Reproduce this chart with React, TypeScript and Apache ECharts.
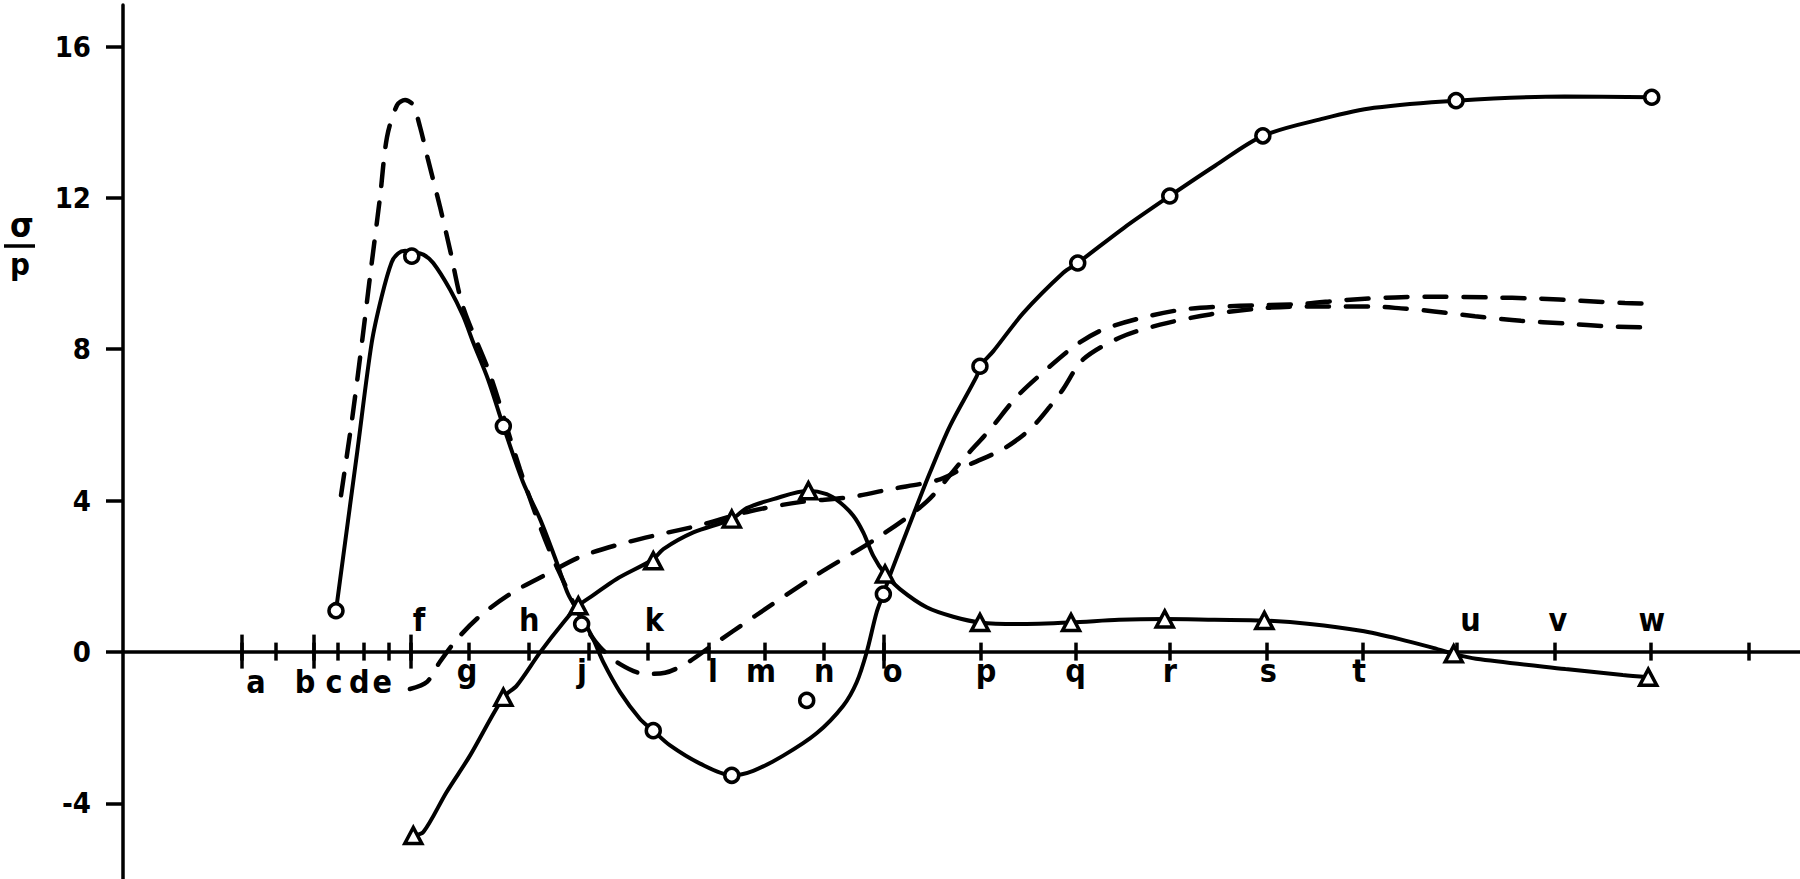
import React, { useEffect, useRef } from "react";
import * as echarts from "echarts";

// ---------- data ----------
const Y_TICKS = [-4, 0, 4, 8, 12, 16];

// x positions of tick marks (arbitrary position scale 0..100)
const X_TICKS = [7.11, 9.13, 11.39, 12.79, 14.36, 15.87, 17.17, 20.6, 24.22, 27.78, 31.27, 34.9, 38.25, 41.81, 45.34, 51.13, 56.8, 62.42, 68.23, 73.92, 79.53, 85.35, 91.1, 96.92];
const X_TICKS_LONG = [7.11, 11.39, 17.17, 45.34];

const LETTERS_LOW = ["a", "b", "c", "d", "e"];
const LETTERS_LOW_POS = [7.93, 10.85, 12.58, 14.09, 15.46];
const LETTERS_BELOW = ["g", "j", "l", "m", "n", "o", "p", "q", "r", "s", "t"];
const LETTERS_BELOW_POS = [20.51, 27.37, 35.18, 38.05, 41.81, 45.89, 51.47, 56.8, 62.42, 68.3, 73.71];
const LETTERS_ABOVE = ["f", "h", "k", "u", "v", "w"];
const LETTERS_ABOVE_POS = [17.65, 24.22, 31.68, 80.35, 85.56, 91.17];

// solid curve through the circles
const CIRCLE_CURVE = [
  [12.7, 1.09], [13.11, 2.45], [13.97, 5.3], [14.83, 8.17], [15.43, 9.4], [16.02, 10.3], [16.4, 10.53], [16.82, 10.6],
  [17.22, 10.57], [17.91, 10.5], [18.5, 10.28], [19.5, 9.58], [20.29, 8.87], [20.89, 8.17], [21.77, 7.2], [22.68, 5.97],
  [23.85, 4.49], [24.87, 3.51], [25.86, 2.37], [26.54, 1.53], [27.13, 1.08], [27.67, 0.66], [28.09, 0.29], [28.64, -0.27],
  [29.64, -1.06], [30.83, -1.77], [31.62, -2.08], [32.62, -2.47], [34.41, -2.95], [36.3, -3.26], [37.58, -3.14], [39.37, -2.74],
  [41.36, -2.15], [42.95, -1.42], [43.75, -0.8], [44.35, 0.0], [44.94, 1.05], [45.34, 1.53], [45.84, 2.15], [46.93, 3.4],
  [48.12, 4.74], [49.31, 5.97], [50.91, 7.29], [51.1, 7.55], [51.9, 7.95], [53.69, 8.96], [56.07, 10.02], [56.93, 10.28],
  [59.69, 11.21], [62.42, 12.05], [65.12, 12.85], [67.97, 13.64], [71.62, 14.1], [74.6, 14.38], [79.49, 14.57], [85.96, 14.68],
  [91.16, 14.66],
];
const CIRCLE_POINTS = [
  [12.7, 1.09], [17.22, 10.46], [22.68, 5.97], [27.35, 0.74], [31.62, -2.08], [36.3, -3.26], [45.34, 1.53],
  [51.1, 7.55], [56.93, 10.28], [62.42, 12.05], [67.97, 13.64], [79.49, 14.57], [91.16, 14.66],
];
const LONE_CIRCLE = [[40.77, -1.28]];

// solid curve through the triangles
const TRIANGLE_CURVE = [
  [17.31, -4.85], [17.91, -4.76], [19.3, -3.7], [20.69, -2.74], [22.68, -1.2], [23.48, -0.89], [24.87, -0.01], [26.26, 0.78],
  [27.15, 1.22], [28.04, 1.5], [29.44, 1.93], [31.62, 2.45], [32.22, 2.72], [34.01, 3.16], [36.3, 3.51], [37.19, 3.8],
  [38.78, 4.04], [40.87, 4.26], [41.96, 4.17], [42.76, 3.95], [43.55, 3.6], [44.14, 3.16], [44.74, 2.54], [45.44, 2.06],
  [46.33, 1.66], [47.92, 1.18], [49.51, 0.93], [51.1, 0.78], [53.3, 0.74], [56.53, 0.78], [59.39, 0.85], [62.12, 0.87],
  [65.09, 0.85], [68.06, 0.83], [70.78, 0.74], [73.82, 0.56], [76.12, 0.34], [78.02, 0.12], [79.35, -0.05], [80.68, -0.18],
  [86.01, -0.45], [89.43, -0.61], [90.95, -0.67],
];
const TRIANGLE_POINTS = [
  [17.31, -4.85], [22.68, -1.2], [27.15, 1.22], [31.62, 2.41], [36.3, 3.51], [40.87, 4.26], [45.44, 2.06],
  [51.1, 0.78], [56.53, 0.78], [62.12, 0.87], [68.06, 0.83], [79.35, -0.05], [90.95, -0.67],
];

// dashed curve with the tall peak
const DASHED_A = [
  [13.0, 4.14], [13.66, 6.15], [14.25, 8.18], [14.73, 9.92], [15.33, 12.03], [15.74, 13.6], [16.34, 14.45], [16.82, 14.59],
  [17.29, 14.46], [17.71, 13.88], [18.19, 13.01], [18.9, 11.77], [19.5, 10.63], [20.27, 9.13], [21.88, 7.34], [23.67, 4.83],
  [25.16, 2.98], [26.48, 1.66], [27.55, 0.69], [28.44, 0.13], [29.64, -0.32], [31.13, -0.58], [32.32, -0.55], [33.63, -0.29],
  [35.0, 0.13], [37.69, 0.95], [41.26, 2.01], [45.14, 3.06], [47.94, 3.98], [50.09, 5.09], [51.7, 5.88], [53.31, 6.75],
  [55.28, 7.55], [56.89, 8.13], [58.44, 8.52], [60.82, 8.84], [63.21, 9.05], [65.59, 9.13], [67.62, 9.16], [70.36, 9.2],
  [72.87, 9.3], [75.85, 9.37], [78.47, 9.39], [81.34, 9.37], [84.32, 9.34], [86.94, 9.28], [89.56, 9.22], [90.7, 9.21],
];
// flatter dashed curve
const DASHED_B = [
  [17.11, -0.98], [18.13, -0.79], [18.9, -0.26], [19.92, 0.34], [21.29, 0.95], [23.26, 1.58], [25.28, 2.06], [27.25, 2.51],
  [29.64, 2.85], [32.02, 3.11], [34.41, 3.35], [37.39, 3.72], [40.37, 3.96], [43.35, 4.09], [45.74, 4.3], [48.72, 4.56],
  [50.51, 4.96], [52.47, 5.36], [54.08, 5.88], [55.28, 6.49], [56.05, 6.94], [57.25, 7.73], [59.45, 8.31], [61.84, 8.65],
  [64.82, 8.92], [67.8, 9.08], [70.19, 9.13], [72.33, 9.13], [74.48, 9.13], [76.21, 9.08], [78.18, 9.0], [80.62, 8.87],
  [83.36, 8.75], [85.99, 8.68], [88.61, 8.6], [90.46, 8.58],
];

// ---------- layout ----------
const W = 1800;
const H = 879;
const GRID_LEFT = 123;
const GRID_TOP = 4.9;
const Y_MIN = -6;
const Y_MAX = 17.1;
const UNIT = 37.9;
const GRID_H = (Y_MAX - Y_MIN) * UNIT;
const ZERO_Y = GRID_TOP + Y_MAX * UNIT;
const X_OFFSET = ZERO_Y - (GRID_TOP + GRID_H);

const FONT = "'Liberation Sans Narrow', 'DejaVu Sans Condensed', 'Liberation Sans', sans-serif";
const INK = "#000";

function letterFormatter(letters: string[], pos: number[]) {
  return (v: number) => {
    let best = 0;
    for (let i = 1; i < pos.length; i++) {
      if (Math.abs(pos[i] - v) < Math.abs(pos[best] - v)) best = i;
    }
    return letters[best];
  };
}

function baseX(extra: any) {
  return {
    type: "value",
    min: 0,
    max: 100,
    position: "bottom",
    offset: X_OFFSET,
    splitLine: { show: false },
    axisLine: { show: false, onZero: false },
    axisTick: { show: false },
    axisLabel: { show: false },
    ...extra,
  };
}

export default function App() {
  const ref = useRef<HTMLDivElement>(null);
  useEffect(() => {
    if (!ref.current) return;
    const chart = echarts.init(ref.current, null, { renderer: "svg" });
    const labelStyle = { color: INK, fontFamily: FONT, fontWeight: "bold", fontSize: 32 };
    const solid = { color: INK, width: 4 };
    const dashed = { color: INK, width: 4.5, type: [22, 17], cap: "round" };
    const option: any = {
      animation: false,
      backgroundColor: "#fff",
      grid: { left: GRID_LEFT, top: GRID_TOP, width: W - GRID_LEFT, height: GRID_H },
      xAxis: [
        baseX({
          axisLine: { show: true, onZero: false, lineStyle: { color: INK, width: 3.5 } },
          axisTick: { show: true, length: 9, lineStyle: { color: INK, width: 3.5 }, customValues: X_TICKS },
          axisLabel: {
            show: true, margin: 3, ...labelStyle,
            customValues: LETTERS_BELOW_POS,
            formatter: letterFormatter(LETTERS_BELOW, LETTERS_BELOW_POS),
          },
        }),
        baseX({
          axisTick: { show: true, inside: true, length: 9, lineStyle: { color: INK, width: 3.5 }, customValues: X_TICKS },
          axisLabel: {
            show: true, inside: true, margin: 16, ...labelStyle,
            customValues: LETTERS_ABOVE_POS,
            formatter: letterFormatter(LETTERS_ABOVE, LETTERS_ABOVE_POS),
          },
        }),
        baseX({
          axisTick: { show: true, length: 17, lineStyle: { color: INK, width: 3.5 }, customValues: X_TICKS_LONG },
          axisLabel: {
            show: true, margin: 14, ...labelStyle,
            customValues: LETTERS_LOW_POS,
            formatter: letterFormatter(LETTERS_LOW, LETTERS_LOW_POS),
          },
        }),
        baseX({
          axisTick: { show: true, inside: true, length: 17, lineStyle: { color: INK, width: 3.5 }, customValues: X_TICKS_LONG },
        }),
      ],
      yAxis: {
        type: "value",
        min: Y_MIN,
        max: Y_MAX,
        position: "left",
        splitLine: { show: false },
        axisLine: { show: true, onZero: false, lineStyle: { color: INK, width: 3.5 } },
        axisTick: { show: true, length: 17, lineStyle: { color: INK, width: 3.5 }, customValues: Y_TICKS },
        axisLabel: {
          show: true, margin: 32, color: INK, fontFamily: FONT, fontWeight: "bold", fontSize: 29,
          customValues: Y_TICKS,
        },
      },
      graphic: [
        {
          type: "text", x: 22, y: 225, z: 10,
          style: { text: "σ", fill: INK, fontFamily: FONT, fontWeight: "bold", fontSize: 34, align: "center", verticalAlign: "middle" },
        },
        { type: "line", z: 10, shape: { x1: 4, y1: 246, x2: 35, y2: 246 }, style: { stroke: INK, lineWidth: 3.5 } },
        {
          type: "text", x: 20, y: 264, z: 10,
          style: { text: "p", fill: INK, fontFamily: FONT, fontWeight: "bold", fontSize: 31, align: "center", verticalAlign: "middle" },
        },
      ],
      series: [
        { type: "line", data: CIRCLE_CURVE, showSymbol: false, smooth: 0.3, z: 2, lineStyle: solid },
        { type: "line", data: TRIANGLE_CURVE, showSymbol: false, smooth: 0.3, z: 2, lineStyle: solid },
        { type: "line", data: DASHED_A, showSymbol: false, smooth: 0.3, z: 2, lineStyle: dashed },
        { type: "line", data: DASHED_B, showSymbol: false, smooth: 0.3, z: 2, lineStyle: dashed },
        {
          type: "scatter", data: CIRCLE_POINTS.concat(LONE_CIRCLE), symbol: "circle", symbolSize: 14, z: 5,
          itemStyle: { color: "#fff", borderColor: INK, borderWidth: 3.5, opacity: 1 },
        },
        {
          type: "scatter", data: TRIANGLE_POINTS, symbol: "triangle", symbolSize: [17, 16], z: 5,
          itemStyle: { color: "#fff", borderColor: INK, borderWidth: 3.5, opacity: 1 },
        },
      ],
    };
    chart.setOption(option);
    return () => chart.dispose();
  }, []);
  return <div ref={ref} style={{ position: "absolute", left: 0, top: 0, width: W, height: H }} />;
}
